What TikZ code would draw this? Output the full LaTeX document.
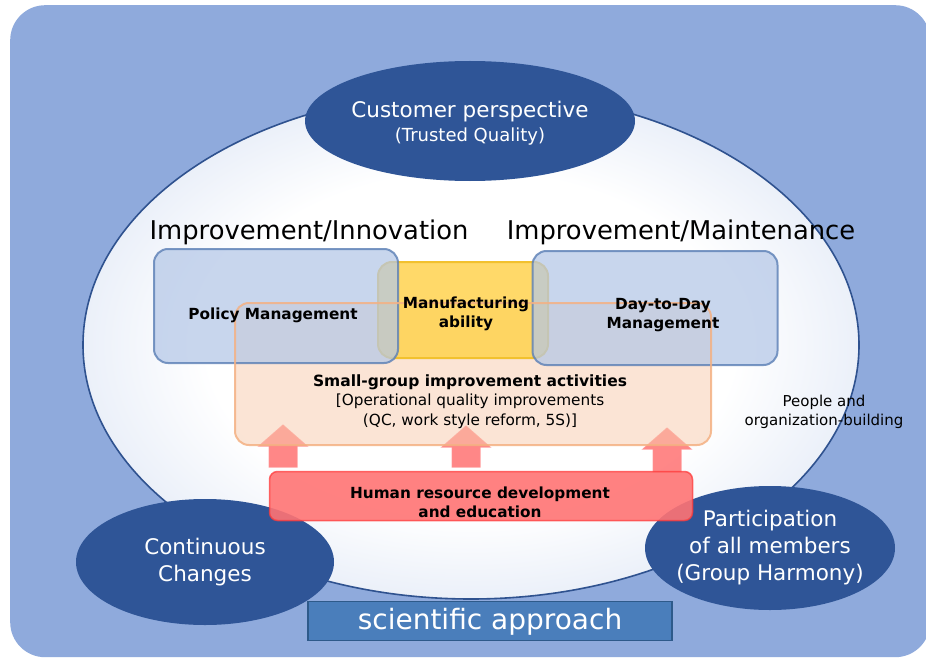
\documentclass[tikz,border=0pt]{standalone}
\usepackage{fontspec}
\setmainfont{DejaVu Sans}
\usetikzlibrary{shapes.geometric}
\definecolor{bgblue}{HTML}{8FAADC}
\definecolor{dkblue}{HTML}{2F5597}
\definecolor{ringblue}{HTML}{2F528F}
\definecolor{edgeblue}{HTML}{EBF0F9}
\definecolor{boxblue}{HTML}{B4C7E7}
\definecolor{boxblueline}{HTML}{5B7FB5}
\definecolor{mfgfill}{HTML}{FFD34F}
\definecolor{mfgline}{HTML}{F2C12E}
\definecolor{sgfill}{HTML}{F8CBAD}
\definecolor{sgline}{HTML}{F4B183}
\definecolor{hrfill}{HTML}{FF7474}
\definecolor{hrline}{HTML}{FF3A3A}
\definecolor{arrfill}{HTML}{FF7A7A}
\definecolor{arrline}{HTML}{FF8C8C}
\definecolor{scifill}{HTML}{4A7EBB}
\definecolor{sciline}{HTML}{2E5A8A}
\pgfdeclareradialshading{ringshade}{\pgfpoint{0bp}{0bp}}{color(0bp)=(white); color(17bp)=(white); color(25bp)=(edgeblue); color(50bp)=(edgeblue)}
\tikzset{
  darkell/.style={ellipse, fill=dkblue, draw=none, inner sep=0pt},
  ellitext/.style={text=white, align=center, font=\fontsize{21.5}{27}\selectfont},
  blubox/.style={rounded corners=14pt, draw=boxblueline, line width=2pt, fill=boxblue, fill opacity=0.72, draw opacity=0.8},
  mfgbox/.style={rounded corners=14pt, draw=mfgline, line width=2pt, fill=mfgfill, fill opacity=0.85},
  sgfillst/.style={rounded corners=14pt, draw=none, fill=sgfill, fill opacity=0.5},
  sgline/.style={rounded corners=14pt, draw=sgline, line width=2pt, draw opacity=0.85},
  hrbox/.style={rounded corners=8pt, draw=hrline, line width=1.5pt, fill=hrfill, fill opacity=0.9, draw opacity=0.75},
  boldlbl/.style={align=center, font=\bfseries\fontsize{15.3}{19}\selectfont},
  headlbl/.style={font=\fontsize{25.8}{30}\selectfont},
  uparrow/.style={fill=arrfill, draw=arrline, line width=1pt, fill opacity=0.9, draw opacity=0.8},
}
\begin{document}
\begin{tikzpicture}[x=1pt,y=-1pt]
\useasboundingbox (0,0) rectangle (926,658);
\fill[white] (0,0) rectangle (926,658);
% outer frame
\node[fill=bgblue, rounded corners=35pt, minimum width=920pt, minimum height=652pt, anchor=north west, inner sep=0pt] (frame) at (10,5) {};
% big ellipse
\node[ellipse, draw=ringblue, line width=1.6pt, shading=ringshade, minimum width=776pt, minimum height=508pt, inner sep=0pt] (big) at (471,345) {};
% customer ellipse
\node[darkell, minimum width=330pt, minimum height=120pt] (cust) at (470,121) {};
\node[ellitext, font=\fontsize{21.5}{28}\selectfont] (custtxt) at (470,123) {Customer perspective\\[-4pt]{\fontsize{18}{22}\selectfont(Trusted Quality)}};
% headings
\node[headlbl] (hinnov) at (309,232) {Improvement/Innovation};
\node[headlbl] (hmaint) at (681,232) {Improvement/Maintenance};
% arrows from hr to small group (drawn below the small-group fill)
\foreach \ax/\bt/\tp in {283/467/425, 466/467/426, 667/472/428}{
  \draw[uparrow] ({\ax-14},\bt) -- ({\ax-14},{\tp+21}) -- ({\ax-24},{\tp+21}) -- (\ax,\tp) -- ({\ax+24},{\tp+21}) -- ({\ax+14},{\tp+21}) -- ({\ax+14},\bt) -- cycle;
}
% boxes
\node[sgfillst, minimum width=476pt, minimum height=142pt] (smallgrp) at (473,374) {};
\node[mfgbox, minimum width=170pt, minimum height=96pt] (mfg) at (463,310) {};
\node[blubox, minimum width=244pt, minimum height=114pt] (policy) at (276,306) {};
\node[blubox, minimum width=245pt, minimum height=114pt] (daytoday) at (655,308) {};
\node[sgline, minimum width=476pt, minimum height=142pt] (smallgrpline) at (smallgrp) {};
% labels in boxes
\node[boldlbl] (policytxt) at (273,315) {Policy Management};
\node[boldlbl] (mfgtxt) at (466,314) {Manufacturing\\ability};
\node[boldlbl] (daytxt) at (663,315) {Day-to-Day\\Management};
\node[align=center, font=\fontsize{15.3}{20}\selectfont] (sgtxt) at (470,402) {{\bfseries\fontsize{15.5}{19}\selectfont Small-group improvement activities}\\[-1pt][Operational quality improvements\\(QC, work style reform, 5S)]};
\node[align=center, font=\fontsize{15}{19}\selectfont] (people) at (824,412) {People and\\organization-building};
% side ellipses
\node[darkell, minimum width=258pt, minimum height=126pt] (cont) at (205,562) {};
\node[darkell, minimum width=250pt, minimum height=124pt] (part) at (770,548) {};
% human resource box
\node[hrbox, minimum width=423pt, minimum height=49pt] (hr) at (481,496) {};
\node[boldlbl] (hrtxt) at (480,502) {Human resource development\\and education};
% ellipse texts
\node[ellitext] (conttxt) at (cont) {Continuous\\Changes};
\node[ellitext] (parttxt) at (part) {Participation\\of all members\\(Group Harmony)};
% scientific approach
\node[fill=scifill, draw=sciline, line width=1.5pt, minimum width=364pt, minimum height=39pt, inner sep=0pt] (sci) at (490,621) {};
\node[text=white, font=\fontsize{28}{32}\selectfont] (scitxt) at (490,622) {scientific approach};
\end{tikzpicture}
\end{document}
